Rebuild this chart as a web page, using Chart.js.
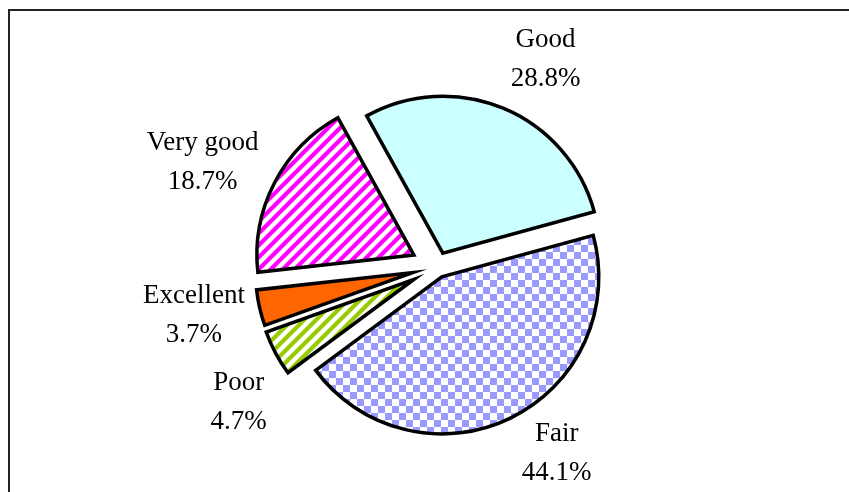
<!DOCTYPE html>
<html>
<head>
<meta charset="utf-8">
<script src="https://cdn.jsdelivr.net/npm/chart.js@4.4.0/dist/chart.umd.min.js"></script>
<style>
  html, body { margin: 0; padding: 0; background: #fff; }
  #wrap { position: relative; width: 849px; height: 492px; overflow: hidden; }
  #frame { position: absolute; left: 8px; top: 9px; width: 900px; height: 600px;
           border-left: 2px solid #222; border-top: 2px solid #222; }
  canvas { position: absolute; left: 0; top: 0; }
</style>
</head>
<body>
<div id="wrap">
  <div id="frame"></div>
  <canvas id="pieChart" width="849" height="492"></canvas>
</div>
<script>
// data
const categories = ['Good', 'Fair', 'Poor', 'Excellent', 'Very good'];
const shares = [28.8, 44.1, 4.7, 3.7, 18.7];
const shareLabels = ['28.8%', '44.1%', '4.7%', '3.7%', '18.7%'];

// how far each slice is pulled out (px)
const explode = [15, 11, 26, 25, 26];
// small hand nudges for the label blocks, like Excel moves them
const labelNudge = [[3, -4], [7, -9], [0, 26], [-5, -3], [-7, 2]];

const ctx = document.getElementById('pieChart').getContext('2d');

function checker(c1, c2, size) {
    const p = document.createElement('canvas');
    p.width = p.height = size * 2;
    const g = p.getContext('2d');
    g.fillStyle = c2;
    g.fillRect(0, 0, size * 2, size * 2);
    g.fillStyle = c1;
    g.fillRect(0, 0, size, size);
    g.fillRect(size, size, size, size);
    return ctx.createPattern(p, 'repeat');
}

function stripes(color, s, w) {
    const p = document.createElement('canvas');
    p.width = p.height = s;
    const g = p.getContext('2d');
    g.fillStyle = '#fff';
    g.fillRect(0, 0, s, s);
    g.strokeStyle = color;
    g.lineWidth = w;
    g.beginPath();
    g.moveTo(-s / 2, s / 2); g.lineTo(s / 2, -s / 2);
    g.moveTo(0, s); g.lineTo(s, 0);
    g.moveTo(s / 2, s * 1.5); g.lineTo(s * 1.5, s / 2);
    g.stroke();
    return ctx.createPattern(p, 'repeat');
}

const fills = [
    '#CCFFFF',
    checker('#9999FF', '#ffffff', 7),
    stripes('#99CC00', 12, 4.2),
    '#FF6600',
    stripes('#FF00FF', 12, 4.2)
];

// push slices outward along their middle angle
const explodePlugin = {
    id: 'explode',
    afterDatasetUpdate(chart, args) {
        args.meta.data.forEach((arc, i) => {
            const mid = (arc.startAngle + arc.endAngle) / 2;
            arc.x += Math.cos(mid) * explode[i];
            arc.y += Math.sin(mid) * explode[i];
        });
    }
};

// two-line labels outside each slice
const labelPlugin = {
    id: 'sliceLabels',
    afterDatasetsDraw(chart) {
        const c = chart.ctx;
        const meta = chart.getDatasetMeta(0);
        c.save();
        c.font = '27px "Liberation Serif", "Times New Roman", serif';
        c.fillStyle = '#000';
        c.textAlign = 'center';
        c.textBaseline = 'middle';
        const lineH = 39;
        meta.data.forEach((arc, i) => {
            const mid = (arc.startAngle + arc.endAngle) / 2;
            const dx = Math.cos(mid), dy = Math.sin(mid);
            const r = arc.outerRadius + 10;
            const px = arc.x + dx * r;
            const py = arc.y + dy * r;
            const w = Math.max(c.measureText(categories[i]).width, c.measureText(shareLabels[i]).width);
            const h = lineH * 2;
            const cx = px + Math.sign(dx) * w / 2 + labelNudge[i][0];
            const cy = py + dy * h / 2 + labelNudge[i][1];
            c.fillText(categories[i], cx, cy - lineH / 2);
            c.fillText(shareLabels[i], cx, cy + lineH / 2);
        });
        c.restore();
    }
};

new Chart(ctx, {
    type: 'pie',
    data: {
        labels: categories,
        datasets: [{
            data: shares,
            backgroundColor: fills,
            borderColor: '#000',
            borderWidth: 3.5,
            borderJoinStyle: 'miter'
        }]
    },
    options: {
        responsive: false,
        animation: false,
        rotation: -29,
        radius: 157,
        layout: { padding: { left: 25, top: 42 } },
        plugins: {
            legend: { display: false },
            tooltip: { enabled: false }
        }
    },
    plugins: [explodePlugin, labelPlugin]
});
</script>
</body>
</html>
